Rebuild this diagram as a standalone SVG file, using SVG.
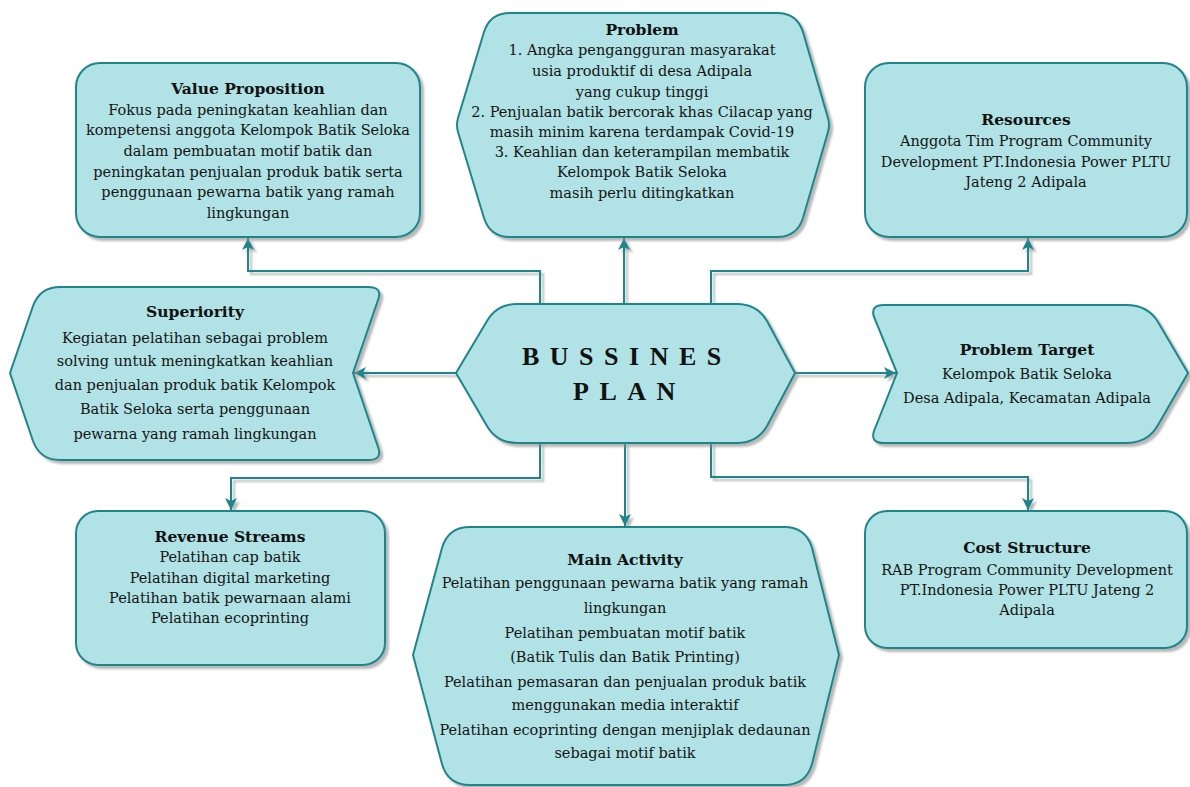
<svg xmlns="http://www.w3.org/2000/svg" width="1190" height="787" viewBox="0 0 1190 787">
<defs>
<filter id="sh" x="-5%" y="-5%" width="112%" height="115%">
<feDropShadow dx="3" dy="3" stdDeviation="1.2" flood-color="#888" flood-opacity="0.6"/>
</filter>
<marker id="ah" viewBox="0 0 12 12" refX="12" refY="6" markerWidth="12" markerHeight="12" markerUnits="userSpaceOnUse" orient="auto">
<path d="M0,0 L12,6 L0,12 L3,6 z" fill="#1d868c"/>
</marker>
<style>
.box{fill:#b0e2e6;stroke:#1d868c;stroke-width:2;filter:url(#sh)}
.con{fill:none;stroke:#1d868c;stroke-width:2;marker-end:url(#ah)}
text{font-family:"DejaVu Serif","Liberation Serif",serif;font-size:14.5px;fill:#151515;text-anchor:middle}
.t{font-weight:bold;font-size:15.5px;fill:#111}
.big{font-family:"Liberation Serif","DejaVu Serif",serif;font-size:26px;font-weight:bold;letter-spacing:10.5px;text-anchor:start;fill:#111}
</style>
</defs>
<rect width="1190" height="787" fill="#ffffff"/>

<g id="connectors" filter="url(#sh)">
<path class="con" d="M540,304 V271 H248 V238"/>
<path class="con" d="M624,304 V238"/>
<path class="con" d="M711,304 V271 H1028 V238"/>
<path class="con" d="M456,373 H354"/>
<path class="con" d="M795,373 H896"/>
<path class="con" d="M540,443 V478 H231 V510"/>
<path class="con" d="M625,443 V526"/>
<path class="con" d="M711,443 V477 H1028 V510"/>
</g>

<g id="value-proposition">
<rect class="box" x="76" y="63" width="344" height="174" rx="24"/>
<text x="248" y="94" class="t">Value Proposition</text>
<text x="248" y="115">Fokus pada peningkatan keahlian dan</text>
<text x="248" y="135">kompetensi anggota Kelompok Batik Seloka</text>
<text x="248" y="156">dalam pembuatan motif batik dan</text>
<text x="248" y="177">peningkatan penjualan produk batik serta</text>
<text x="248" y="197">penggunaan pewarna batik yang ramah</text>
<text x="248" y="218">lingkungan</text>
</g>

<g id="problem">
<path class="box" d="M458,118 L484,32 Q490,13 510,13 L777,13 Q797,13 803,32 L828,118 Q830,125 828,132 L803,218 Q797,237 777,237 L510,237 Q490,237 484,218 L458,132 Q456,125 458,118 Z"/>
<text x="642" y="35" class="t">Problem</text>
<text x="642" y="55">1. Angka pengangguran masyarakat</text>
<text x="642" y="76">usia produktif di desa Adipala</text>
<text x="642" y="97">yang cukup tinggi</text>
<text x="642" y="117">2. Penjualan batik bercorak khas Cilacap yang</text>
<text x="642" y="137">masih minim karena terdampak Covid-19</text>
<text x="642" y="157">3. Keahlian dan keterampilan membatik</text>
<text x="642" y="177">Kelompok Batik Seloka</text>
<text x="642" y="198">masih perlu ditingkatkan</text>
</g>

<g id="resources">
<rect class="box" x="865" y="63" width="322" height="174" rx="24"/>
<text x="1026" y="125" class="t">Resources</text>
<text x="1026" y="146">Anggota Tim Program Community</text>
<text x="1026" y="167">Development PT.Indonesia Power PLTU</text>
<text x="1026" y="187">Jateng 2 Adipala</text>
</g>

<g id="superiority">
<path class="box" d="M10,373 L33,306 Q40,287 60,287 L368,287 Q383,287 378,300 L353,373 L378,447 Q383,460 368,460 L60,460 Q40,460 33,441 Z"/>
<text x="195" y="317" class="t">Superiority</text>
<text x="195" y="343">Kegiatan pelatihan sebagai problem</text>
<text x="195" y="366">solving untuk meningkatkan keahlian</text>
<text x="195" y="390">dan penjualan produk batik Kelompok</text>
<text x="195" y="414">Batik Seloka serta penggunaan</text>
<text x="195" y="439">pewarna yang ramah lingkungan</text>
</g>

<g id="bussines-plan">
<path class="box" d="M456,373 L487,321 Q497,304 517,304 L737,304 Q757,304 767,321 L795,373 L767,426 Q757,443 737,443 L517,443 Q497,443 487,426 Z"/>
<text x="522" y="365" class="big">BUSSINES</text>
<text x="573" y="400" class="big">PLAN</text>
</g>

<g id="problem-target">
<path class="box" d="M897,373 L874,317 Q870,305 884,305 L1126,305 Q1148,305 1158,322 L1188,373 L1158,425 Q1148,443 1126,443 L884,443 Q870,443 874,431 Z"/>
<text x="1027" y="355" class="t">Problem Target</text>
<text x="1027" y="379">Kelompok Batik Seloka</text>
<text x="1027" y="403">Desa Adipala, Kecamatan Adipala</text>
</g>

<g id="revenue-streams">
<rect class="box" x="76" y="511" width="309" height="154" rx="22"/>
<text x="230" y="542" class="t">Revenue Streams</text>
<text x="230" y="562">Pelatihan cap batik</text>
<text x="230" y="583">Pelatihan digital marketing</text>
<text x="230" y="603">Pelatihan batik pewarnaan alami</text>
<text x="230" y="623">Pelatihan ecoprinting</text>
</g>

<g id="main-activity">
<path class="box" d="M413,655 L442,548 Q448,527 470,527 L784,527 Q806,527 812,548 L839,655 L812,764 Q806,785 784,785 L470,785 Q448,785 442,764 Z"/>
<text x="625" y="565" class="t">Main Activity</text>
<text x="625" y="588">Pelatihan penggunaan pewarna batik yang ramah</text>
<text x="625" y="613">lingkungan</text>
<text x="625" y="638">Pelatihan pembuatan motif batik</text>
<text x="625" y="662">(Batik Tulis dan Batik Printing)</text>
<text x="625" y="687">Pelatihan pemasaran dan penjualan produk batik</text>
<text x="625" y="710">menggunakan media interaktif</text>
<text x="625" y="735">Pelatihan ecoprinting dengan menjiplak dedaunan</text>
<text x="625" y="758">sebagai motif batik</text>
</g>

<g id="cost-structure">
<rect class="box" x="865" y="511" width="322" height="137" rx="22"/>
<text x="1027" y="553" class="t">Cost Structure</text>
<text x="1027" y="575">RAB Program Community Development</text>
<text x="1027" y="595">PT.Indonesia Power PLTU Jateng 2</text>
<text x="1027" y="615">Adipala</text>
</g>
</svg>
